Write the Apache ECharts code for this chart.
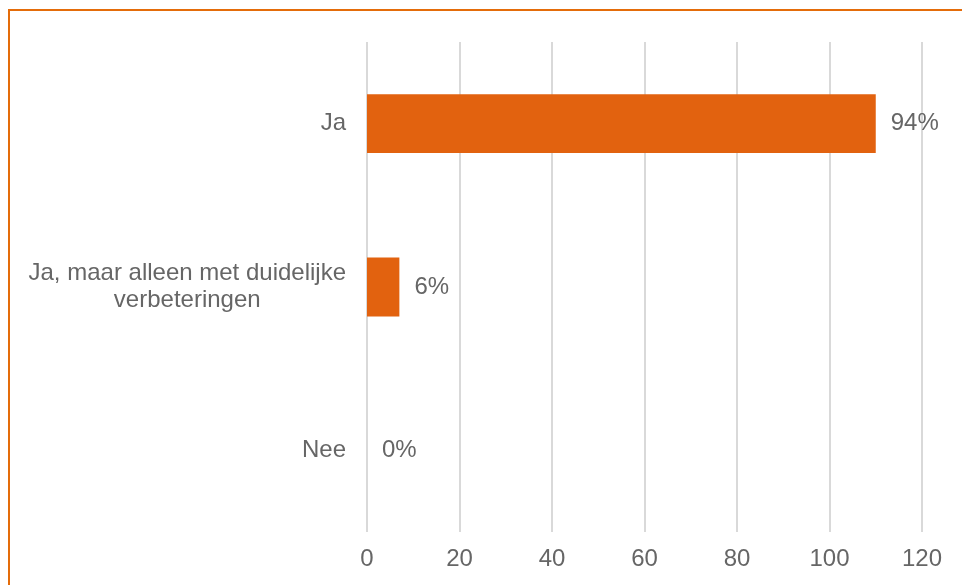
<!DOCTYPE html>
<html>
<head>
<meta charset="utf-8">
<script src="https://cdn.jsdelivr.net/npm/echarts@6/dist/echarts.min.js"></script>
<style>
  html, body { margin: 0; padding: 0; background: #fff; }
  #chart { width: 962px; height: 585px; }
</style>
</head>
<body>
<div id="chart"></div>
<script>
// Answer categories (top to bottom) and number of respondents per answer
const categories = ['Ja', 'Ja, maar alleen met duidelijke\nverbeteringen', 'Nee'];
const counts = [110, 7, 0];
const axisTicks = [0, 20, 40, 60, 80, 100, 120];

const total = counts.reduce((a, b) => a + b, 0);
const textColor = '#666666';
const font = 'Liberation Sans, Arial, sans-serif';
const fontSize = 24;

const chart = echarts.init(document.getElementById('chart'));
chart.setOption({
  animation: false,
  backgroundColor: '#ffffff',
  graphic: [{
    type: 'rect',
    shape: { x: 9, y: 10, width: 1200, height: 1000 },
    style: { fill: 'none', stroke: '#E46C0A', lineWidth: 2 },
    silent: true
  }],
  grid: { left: 367, right: 40, top: 42, bottom: 53 },
  xAxis: {
    type: 'value',
    min: axisTicks[0],
    max: axisTicks[axisTicks.length - 1],
    interval: axisTicks[1] - axisTicks[0],
    axisLine: { show: false },
    axisTick: { show: false },
    splitLine: { lineStyle: { color: '#d9d9d9', width: 2 } },
    axisLabel: { color: textColor, fontSize: fontSize, fontFamily: font, margin: 15 }
  },
  yAxis: {
    type: 'category',
    inverse: true,
    data: categories,
    axisLine: { show: false },
    axisTick: { show: false },
    axisLabel: {
      color: textColor, fontSize: fontSize, fontFamily: font, margin: 21,
      align: 'right', lineHeight: 27,
      formatter: function (v) {
        const lines = v.split('\n');
        if (lines.length < 2) return v;
        return lines.map(l => '{c|' + l + '}').join('\n');
      },
      rich: { c: { align: 'center', color: textColor, fontSize: fontSize, fontFamily: font, lineHeight: 27 } }
    }
  },
  series: [{
    type: 'bar',
    data: counts,
    barCategoryGap: '64%',
    itemStyle: { color: '#E2620F' },
    label: {
      show: true,
      position: 'right',
      distance: 15,
      color: textColor,
      fontSize: fontSize,
      fontFamily: font,
      formatter: p => Math.round(p.value / total * 100) + '%'
    }
  }]
});
</script>
</body>
</html>
